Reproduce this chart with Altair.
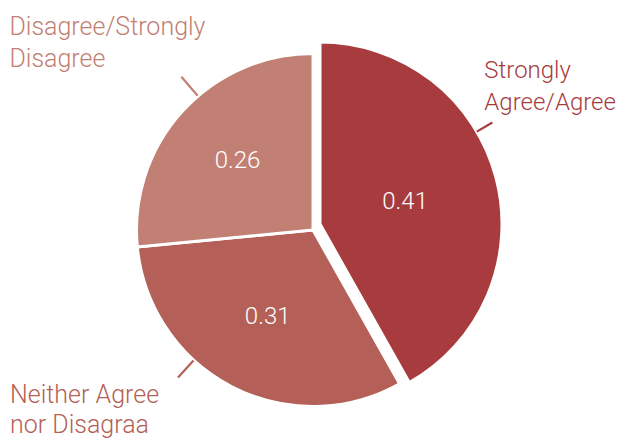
import math
import altair as alt
import pandas as pd

# ---- data ----
categories = ["Strongly Agree/Agree", "Neither Agree nor Disagraa", "Disagree/Strongly Disagree"]
values = [0.41, 0.31, 0.26]
value_labels = ["0.41", "0.31", "0.26"]
label_texts = ["Strongly\nAgree/Agree", "Neither Agree\nnor Disagraa", "Disagree/Strongly\nDisagree"]
order = [0, 1, 2]

total = sum(values)
df = pd.DataFrame({"cat": categories, "value": values, "vlabel": value_labels,
                   "label": label_texts, "order": order})

# ---- styles (per slice) ----
styles = {
    "Strongly Agree/Agree": dict(color="#a83b3e", cx=312, cy=216, r=182, num_r=88,
                                 lead_shift=-15.8, lead_r=(182, 200), dx=-8, dy=-45,
                                 fs=24, lh=32),
    "Neither Agree nor Disagraa": dict(color="#b45f57", cx=305, cy=222, r=176.5, num_r=98,
                                       lead_shift=14.9, lead_r=(177, 200), dx=-168, dy=25,
                                       fs=25, lh=30),
    "Disagree/Strongly Disagree": dict(color="#c27f73", cx=305, cy=222, r=176.5, num_r=102,
                                       lead_shift=7.1, lead_r=(177, 202), dx=-172, dy=-42,
                                       fs=25, lh=32),
}

FONT = "Roboto"
theta_scale = alt.Scale(domain=[0, total], range=[0, 2 * math.pi])

base = alt.Chart(df).transform_window(
    cum="sum(value)", sort=[alt.SortField("order")], frame=[None, 0]
).transform_calculate(
    start="datum.cum - datum.value",
    mid="datum.cum - datum.value / 2",
)

layers = []
for cat in categories:
    s = styles[cat]
    b = base.transform_filter(alt.datum.cat == cat)
    pos = dict(x=alt.value(s["cx"]), y=alt.value(s["cy"]))
    arc = b.mark_arc(outerRadius=s["r"], color=s["color"], stroke="white",
                     strokeWidth=3).encode(
        theta=alt.Theta("start:Q", scale=theta_scale),
        theta2="cum:Q", **pos)
    num = b.mark_text(font=FONT, fontWeight=300, fontSize=24, color="white",
                      align="center", baseline="middle").encode(
        theta=alt.Theta("mid:Q", scale=theta_scale),
        radius=alt.value(s["num_r"]), text="vlabel:N", **pos)
    shift = s["lead_shift"] / 360.0 * total
    lb = b.transform_calculate(lead=f"datum.mid + {shift}")
    lead = lb.mark_arc(stroke=s["color"], strokeWidth=2.2, fillOpacity=0,
                       fill="white", strokeCap="butt").encode(
        theta=alt.Theta("lead:Q", scale=theta_scale), theta2="lead:Q",
        radius=alt.value(s["lead_r"][0]), radius2=alt.value(s["lead_r"][1]), **pos)
    txt = lb.mark_text(font=FONT, fontWeight=300, fontSize=s["fs"], color=s["color"],
                       align="left", baseline="alphabetic", lineBreak="\n",
                       lineHeight=s["lh"], dx=s["dx"], dy=s["dy"]).encode(
        theta=alt.Theta("lead:Q", scale=theta_scale),
        radius=alt.value(s["lead_r"][1]), text="label:N", **pos)
    layers += [arc, lead, num, txt]

chart = alt.layer(*layers).properties(
    width=611, height=431, autosize=alt.AutoSizeParams(type="none"), padding=0
).configure_view(stroke=None)

chart.save("out.html", embed_options={"renderer": "svg", "actions": False})
